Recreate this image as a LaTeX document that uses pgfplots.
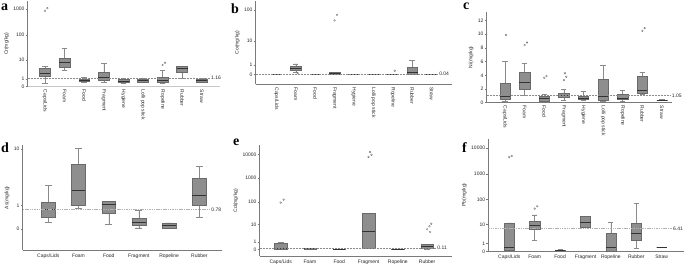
\documentclass[border=0pt]{standalone}
\usepackage{pgfplots}
\pgfplotsset{compat=1.18}
\usepgfplotslibrary{statistics}
\usepackage{fontspec}
\setmainfont{Liberation Sans}
\newfontfamily\letterfont{Liberation Serif}
\definecolor{boxfill}{HTML}{8E8E8E}
\definecolor{boxline}{HTML}{6A6A6A}
\definecolor{whisk}{HTML}{8A8A8A}
\definecolor{axgray}{HTML}{7A7A7A}
\definecolor{refgray}{HTML}{8C8C8C}
\tikzset{reflab/.style={font=\fontsize{5}{6}\selectfont, text=black!85, inner sep=1pt, anchor=west},
  lett/.style={anchor=base west, inner sep=0pt, font=\letterfont\bfseries\fontsize{14}{14}\selectfont}}
\pgfplotsset{
  panel/.style={
    scale only axis, anchor=south west, clip=false,
    axis lines*=left, axis line style={draw=axgray, line width=0.5pt},
    tick align=outside, major tick length=2pt,
    ytick style={draw=axgray, line width=0.4pt}, xtick style={draw=none},
    tick label style={font=\fontsize{5}{6}\selectfont, text=black!85},
    label style={font=\fontsize{5}{6}\selectfont, text=black!85},
    yticklabel style={inner sep=1pt},
    xtick={1,...,9},
    boxplot/draw direction=y,
  },
  toprow/.style={xticklabel style={rotate=-90, anchor=west, inner sep=1pt}},
  botrow/.style={xticklabel style={anchor=north, inner sep=1.5pt}},
  bp/.style={boxplot prepared={#1}, fill=boxfill, draw=boxline, line width=0.4pt,
    boxplot/every median/.style={draw=black!80, line width=0.7pt},
    boxplot/every whisker/.style={draw=whisk, line width=0.4pt}},
  lg/.style={y filter/.expression={log10(y+1)}},
  outl/.style={only marks, mark=o, mark size=0.9pt, mark options={draw=black!60, fill=none, line width=0.3pt}},
  refl/.style={refgray, line width=0.45pt, dash pattern=on 2pt off 1pt},
  refthick/.style={black!30, line width=1.1pt, dash pattern=on 1.5pt off 0.8pt},
}
% linear box: position, lower whisker, Q1, median, Q3, upper whisker
\newcommand{\bxL}[6]{\addplot[bp={draw position=#1, lower whisker=#2, lower quartile=#3, median=#4, upper quartile=#5, upper whisker=#6}]}
% box on the log10(value+1) scale, values given in mg/kg
\newcommand{\bxT}[6]{%
  \pgfmathparse{log10(#2+1)}\let\bxa\pgfmathresult
  \pgfmathparse{log10(#3+1)}\let\bxb\pgfmathresult
  \pgfmathparse{log10(#4+1)}\let\bxc\pgfmathresult
  \pgfmathparse{log10(#5+1)}\let\bxd\pgfmathresult
  \pgfmathparse{log10(#6+1)}\let\bxe\pgfmathresult
  \edef\bxtmp{\noexpand\addplot[bp={draw position=#1, lower whisker=\bxa, lower quartile=\bxb, median=\bxc, upper quartile=\bxd, upper whisker=\bxe}]}\bxtmp}
\begin{document}
\begin{tikzpicture}
\useasboundingbox (0pt,0pt) rectangle (685pt,-264pt);
% ---------- a: Cr
\begin{axis}[panel, toprow, at={(27.7pt,-86.7pt)}, width=192.3pt, height=85.7pt,
  xmin=0.117, xmax=9.93, ymin=0, ymax=3.32,
  ytick={0,0.30103,1.04139,2.00432,3.00043}, yticklabels={0,1,10,100,1000},
  xticklabels={Caps/Lids,Foam,Food,Fragment,Hygiene,Lolli pop stick,Ropeline,Rubber,Straw},
  x axis line style={draw=black!22, line width=1.6pt},
  ylabel={Cr(mg/kg)},
  boxplot/box extend=0.56, boxplot/whisker extend=0.28]
\bxT{1}{0.35}{1.6}{2.3}{4.1}{5.3} coordinates {};
\bxT{2}{3.4}{4.6}{7.8}{11.6}{30} coordinates {};
\bxT{3}{0.47}{0.61}{0.82}{1.04}{1.24} coordinates {};
\bxT{4}{0.43}{0.71}{1.3}{2.6}{7.05} coordinates {};
\bxT{5}{0.38}{0.43}{0.66}{0.93}{1.1} coordinates {};
\bxT{6}{0.52}{0.56}{0.82}{1.04}{1.17} coordinates {};
\bxT{7}{0.35}{0.52}{0.82}{1.24}{3.2} coordinates {};
\bxT{8}{1.1}{2.8}{4.1}{5.0}{5.3} coordinates {};
\bxT{9}{0.47}{0.52}{0.82}{1.04}{1.17} coordinates {};
\addplot[outl, lg] coordinates {(1,880) (1.12,1100) (7,5.9) (7.12,7.5)};
\addplot[refl, lg] coordinates {(0.117,1.16) (9.42,1.16)} node[reflab, pos=1] {1.16};
\end{axis}
% ---------- b: Co
\begin{axis}[panel, toprow, at={(255.7pt,-84.3pt)}, width=196.3pt, height=83.3pt,
  xmin=-0.062, xmax=10.05, ymin=-0.298, ymax=2.284,
  ytick={0,0.30103,1.04139,2.00432}, yticklabels={0,1,10,100},
  xticklabels={Caps/Lids,Foam,Food,Fragment,Hygiene,Lolli pop stick,Ropeline,Rubber,Straw},
  ylabel={Co(mg/kg)},
  boxplot/box extend=0.55, boxplot/whisker extend=0.28]
\bxT{1}{0.01}{0.01}{0.02}{0.03}{0.03} coordinates {};
\bxT{2}{0.19}{0.40}{0.58}{0.77}{1.15} coordinates {};
\bxT{3}{0.01}{0.01}{0.02}{0.03}{0.03} coordinates {};
\bxT{4}{0.03}{0.03}{0.08}{0.19}{0.19} coordinates {};
\bxT{5}{0.01}{0.01}{0.02}{0.03}{0.03} coordinates {};
\bxT{6}{0.01}{0.01}{0.02}{0.03}{0.03} coordinates {};
\bxT{7}{0.01}{0.015}{0.02}{0.03}{0.03} coordinates {};
\bxT{8}{0.05}{0.05}{0.21}{0.69}{1.85} coordinates {};
\bxT{9}{0.01}{0.01}{0.02}{0.03}{0.03} coordinates {};
\addplot[outl, lg] coordinates {(2.1,0.12) (4,47) (4.12,70) (7.1,0.33)};
\addplot[refl, lg] coordinates {(-0.062,0.04) (9.33,0.04)} node[reflab, pos=1] {0.04};
\end{axis}
% ---------- c: Ni
\begin{axis}[panel, toprow, at={(486.7pt,-102.7pt)}, width=185pt, height=91pt,
  xmin=0.066, xmax=9.5, ymin=0, ymax=13.3,
  ytick={0,2,4,6,8,10,12}, yticklabels={0,2,4,6,8,10,12},
  xticklabels={Caps/Lids,Foam,Food,Fragment,Hygiene,Lolli pop stick,Ropeline,Rubber,Straw},
  ylabel={Ni(mg/kg)},
  boxplot/box extend=0.53, boxplot/whisker extend=0.27]
\bxL{1}{0.24}{0.49}{0.88}{2.83}{6.0} coordinates {};
\bxL{2}{1.07}{2.0}{3.02}{4.44}{5.76} coordinates {};
\bxL{3}{0.15}{0.29}{0.59}{0.98}{1.22} coordinates {};
\bxL{4}{0.34}{0.78}{1.07}{1.37}{1.95} coordinates {};
\bxL{5}{0.4}{0.49}{0.68}{0.98}{1.66} coordinates {};
\bxL{6}{0.29}{0.39}{0.88}{3.46}{5.5} coordinates {};
\bxL{7}{0.24}{0.49}{0.68}{1.17}{1.8} coordinates {};
\bxL{8}{1.22}{1.32}{1.8}{3.9}{4.44} coordinates {};
\bxL{9}{0.3}{0.35}{0.39}{0.42}{0.45} coordinates {};
\addplot[outl] coordinates {(1.05,9.9) (2,8.4) (2.12,8.8) (3,3.66) (3.12,3.9) (4,3.3) (4.12,3.8) (4.06,4.3) (8,10.5) (8.12,10.9)};
\addplot[refl] coordinates {(0.066,1.05) (9.45,1.05)} node[reflab, pos=1] {1.05};
\end{axis}
% ---------- d: As
\begin{axis}[panel, botrow, at={(22.7pt,-250.3pt)}, width=199pt, height=105pt,
  xmin=0.152, xmax=6.74, ymin=-0.281, ymax=1.086,
  ytick={0,0.30103,1.04139}, yticklabels={0,1,10},
  xtick={1,...,6},
  xticklabels={Caps/Lids,Foam,Food,Fragment,Ropeline,Rubber},
  ylabel={As(mg/kg)},
  boxplot/box extend=0.46, boxplot/whisker extend=0.23]
\bxT{1}{0.2}{0.42}{0.80}{1.22}{2.66} coordinates {};
\bxT{2}{0.84}{1.05}{2.15}{5.95}{10.2} coordinates {};
\bxT{3}{0.14}{0.60}{1.05}{1.25}{1.29} coordinates {};
\bxT{4}{0.03}{0.105}{0.22}{0.39}{0.73} coordinates {};
\bxT{5}{0.03}{0.03}{0.116}{0.197}{0.197} coordinates {};
\bxT{6}{0.4}{1.05}{1.74}{3.6}{5.5} coordinates {};
\addplot[refthick, lg] coordinates {(0.152,0.78) (6.35,0.78)} node[reflab, pos=1] {0.78};
\end{axis}
% ---------- e: Cd
\begin{axis}[panel, botrow, at={(259.7pt,-256pt)}, width=192.3pt, height=110.7pt,
  xmin=0.283, xmax=6.85, ymin=-0.282, ymax=4.383,
  ytick={0,0.30103,1.04139,2.00432,3.00043,4.00004}, yticklabels={0,1,10,100,1000,10000},
  xtick={1,...,6},
  xticklabels={Caps/Lids,Foam,Food,Fragment,Ropeline,Rubber},
  ylabel={Cd(mg/kg)},
  boxplot/box extend=0.42, boxplot/whisker extend=0.21]
\bxT{1}{0}{0.01}{0.14}{0.85}{0.97} coordinates {};
\bxT{2}{0.02}{0.04}{0.06}{0.08}{0.1} coordinates {};
\bxT{3}{0.01}{0.02}{0.03}{0.04}{0.05} coordinates {};
\bxT{4}{0.1}{0.14}{4.7}{31}{31} coordinates {};
\bxT{5}{0.01}{0.02}{0.03}{0.04}{0.05} coordinates {};
\bxT{6}{0.02}{0.1}{0.38}{0.57}{0.6} coordinates {};
\addplot[outl, lg] coordinates {(1,92) (1.1,123) (4,7800) (4.1,9700) (4.05,12600) (6.1,4.4) (6,6) (6.08,8.3) (6.14,11)};
\addplot[refl, lg] coordinates {(0.283,0.11) (6.31,0.11)} node[reflab, pos=1] {0.11};
\end{axis}
% ---------- f: Pb
\begin{axis}[panel, botrow, at={(488.3pt,-251.3pt)}, width=195.7pt, height=112.6pt,
  xmin=0.173, xmax=7.88, ymin=0, ymax=4.36,
  ytick={0,0.30103,1.04139,2.00432,3.00043,4.00004}, yticklabels={0,1,10,100,1000,10000},
  xtick={1,...,7},
  xticklabels={Caps/Lids,Foam,Food,Fragment,Ropeline,Rubber,Straw},
  ylabel={Pb(mg/kg)},
  boxplot/box extend=0.4, boxplot/whisker extend=0.2]
\bxT{1}{0.09}{0.09}{0.47}{11.5}{11.5} coordinates {};
\bxT{2}{1.67}{6.1}{9.1}{13.5}{25} coordinates {};
\bxT{3}{0.08}{0.1}{0.12}{0.14}{0.16} coordinates {};
\bxT{4}{7.5}{7.5}{12.6}{21}{21} coordinates {};
\bxT{5}{0}{0.01}{0.43}{4.0}{12.6} coordinates {};
\bxT{6}{0.27}{1.8}{4.0}{10.8}{69} coordinates {};
\bxT{7}{0.43}{0.43}{0.43}{0.43}{0.43} coordinates {};
\addplot[outl, lg] coordinates {(1,4500) (1.1,4900) (2,44) (2.1,55)};
\addplot[refthick, lg] coordinates {(0.173,6.41) (7.39,6.41)} node[reflab, pos=1] {6.41};
\end{axis}
% panel letters
\node[lett] at (1pt,-11pt) {a};
\node[lett] at (231pt,-13.3pt) {b};
\node[lett] at (463pt,-10pt) {c};
\node[lett] at (1pt,-152.7pt) {d};
\node[lett] at (233pt,-145.3pt) {e};
\node[lett] at (462pt,-152.7pt) {f};
\end{tikzpicture}
\end{document}
